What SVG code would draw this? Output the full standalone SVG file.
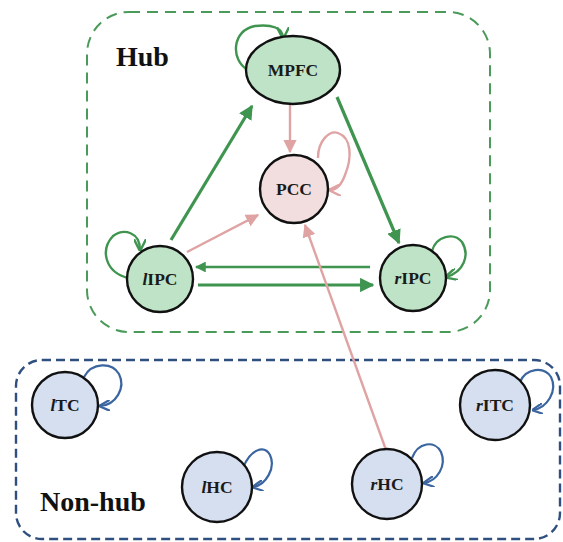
<svg xmlns="http://www.w3.org/2000/svg" width="563" height="542" viewBox="0 0 563 542">
<style>
.lbl{font-family:"Liberation Serif",serif;font-weight:bold;font-size:17.5px;fill:#1a1a1a;text-anchor:middle}
.title{font-family:"Liberation Serif",serif;font-weight:bold;font-size:28px;fill:#111}
.g{fill:#bfe3c6;stroke:#111;stroke-width:2.4}
.p{fill:#f2dede;stroke:#111;stroke-width:2.4}
.b{fill:#d5dff0;stroke:#111;stroke-width:2.4}
.eg{fill:none;stroke:#3f9550;stroke-width:3.2}
.egt{fill:none;stroke:#3f9550;stroke-width:2.4}
.ep{fill:none;stroke:#e0a3a3;stroke-width:2.4}
.eb{fill:none;stroke:#3a65a0;stroke-width:2.2}
</style>
<defs>
<marker id="ag" viewBox="0 0 10 10" refX="9" refY="5" markerWidth="4.5" markerHeight="4.5" orient="auto" markerUnits="strokeWidth"><path d="M0,0 L10,5 L0,10 Z" fill="#3f9550"/></marker>
<marker id="agl" viewBox="0 0 10 10" refX="9" refY="5" markerWidth="5" markerHeight="5" orient="auto" markerUnits="strokeWidth"><path d="M0,0 L10,5 L0,10" fill="none" stroke="#3f9550" stroke-width="2"/></marker>
<marker id="ap" viewBox="0 0 10 10" refX="9" refY="5" markerWidth="5.5" markerHeight="5.5" orient="auto" markerUnits="strokeWidth"><path d="M0,0 L10,5 L0,10 Z" fill="#e0a3a3"/></marker>
<marker id="apl" viewBox="0 0 10 10" refX="9" refY="5" markerWidth="5" markerHeight="5" orient="auto" markerUnits="strokeWidth"><path d="M0,0 L10,5 L0,10" fill="none" stroke="#e0a3a3" stroke-width="2"/></marker>
<marker id="ab" viewBox="0 0 10 10" refX="9" refY="5" markerWidth="5" markerHeight="5" orient="auto" markerUnits="strokeWidth"><path d="M0,0 L10,5 L0,10" fill="none" stroke="#3a65a0" stroke-width="2"/></marker>
</defs>
<g id="groups">
<rect x="87" y="12" width="403" height="320" rx="42" fill="none" stroke="#4a9a5a" stroke-width="2" stroke-dasharray="11,7"/>
<rect x="16" y="360" width="544" height="179" rx="26" fill="none" stroke="#2f4f7f" stroke-width="2.4" stroke-dasharray="9,5"/>
<text class="title" x="116" y="66">Hub</text>
<text class="title" x="40" y="511">Non-hub</text>
</g>
<g id="connectors">
<path class="eg" d="M171,240 L252,106" marker-end="url(#ag)"/>
<path class="eg" d="M337,97 L399,243" marker-end="url(#ag)"/>
<path class="egt" d="M370,267 L196,267" marker-end="url(#ag)"/>
<path class="eg" d="M198,285 L373,285" marker-end="url(#ag)"/>
<path class="ep" d="M290,105 L290,152" marker-end="url(#ap)"/>
<path class="ep" d="M187,252 L258,215" marker-end="url(#ap)"/>
<path class="ep" d="M386,450 L305,225" marker-end="url(#ap)"/>
<path class="egt" d="M248,70 C230,60 232,30 255,26 C272,24 283,28 283,38" marker-end="url(#agl)"/>
<path class="ep" d="M318,158 C318,140 330,130 338,133 C352,138 352,158 345,175 C341,186 336,190 330,190" marker-end="url(#apl)"/>
<path class="egt" d="M128,278 C105,272 100,250 113,236 C124,228 140,232 140,250" marker-end="url(#agl)"/>
<path class="egt" d="M432,251 C436,236 454,232 462,242 C470,255 464,272 446,277" marker-end="url(#agl)"/>
<path class="eb" d="M84,377 C92,362 112,362 119,374 C126,388 116,405 100,406" marker-end="url(#ab)"/>
<path class="eb" d="M243,468 C250,450 264,444 270,455 C276,468 266,485 253,487" marker-end="url(#ab)"/>
<path class="eb" d="M412,458 C418,442 435,440 441,452 C447,466 437,481 424,483" marker-end="url(#ab)"/>
<path class="eb" d="M520,382 C526,368 544,366 551,377 C558,391 547,408 533,410" marker-end="url(#ab)"/>
</g>
<g id="MPFC"><ellipse class="g" cx="293" cy="70" rx="47" ry="34"/><text class="lbl" x="293" y="76">MPFC</text></g>
<g id="PCC"><circle class="p" cx="294" cy="189" r="34"/><text class="lbl" x="294" y="195">PCC</text></g>
<g id="lIPC"><circle class="g" cx="160" cy="279" r="33"/><text class="lbl" x="160" y="285"><tspan font-style="italic">l</tspan>IPC</text></g>
<g id="rIPC"><circle class="g" cx="413" cy="278" r="33"/><text class="lbl" x="413" y="284"><tspan font-style="italic">r</tspan>IPC</text></g>
<g id="lTC"><circle class="b" cx="65" cy="405" r="33"/><text class="lbl" x="65" y="411"><tspan font-style="italic">l</tspan>TC</text></g>
<g id="lHC"><circle class="b" cx="217" cy="487" r="35"/><text class="lbl" x="217" y="493"><tspan font-style="italic">l</tspan>HC</text></g>
<g id="rHC"><circle class="b" cx="387" cy="484" r="35"/><text class="lbl" x="387" y="490"><tspan font-style="italic">r</tspan>HC</text></g>
<g id="rITC"><circle class="b" cx="495" cy="405" r="35"/><text class="lbl" x="495" y="411"><tspan font-style="italic">r</tspan>ITC</text></g>
</svg>
